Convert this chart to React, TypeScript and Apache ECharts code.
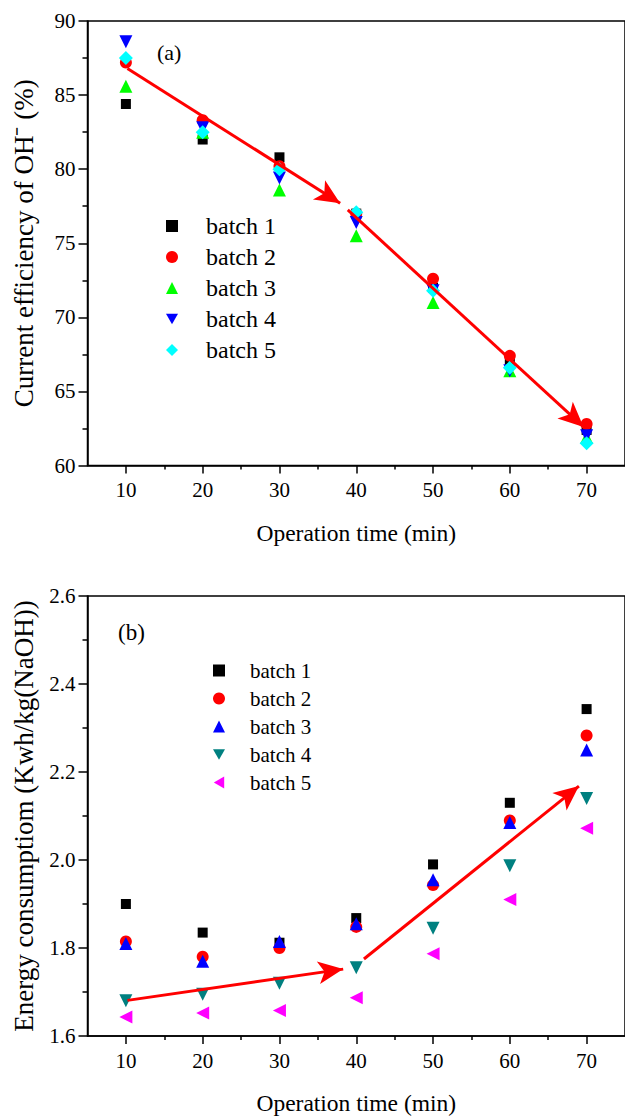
import React, { useEffect, useRef } from "react";
import * as echarts from "echarts";

const times = [10, 20, 30, 40, 50, 60, 70];
const minorTimes = [15, 25, 35, 45, 55, 65];

// (a) Current efficiency of OH- (%)
const effBatch1 = [84.4, 82.0, 80.8, 77.0, 72.0, 67.0, 62.4];
const effBatch2 = [87.2, 83.3, 80.2, 77.0, 72.6, 67.4, 62.8];
const effBatch3 = [85.6, 82.5, 78.6, 75.5, 71.0, 66.4, 61.9];
const effBatch4 = [88.6, 82.8, 79.4, 76.4, 71.8, 66.4, 62.0];
const effBatch5 = [87.5, 82.5, 80.0, 77.1, 71.8, 66.6, 61.5];

// (b) Energy consumption (Kwh/kg(NaOH))
const enBatch1 = [1.9, 1.835, 1.812, 1.868, 1.99, 2.13, 2.343];
const enBatch2 = [1.815, 1.78, 1.8, 1.848, 1.943, 2.09, 2.283];
const enBatch3 = [1.81, 1.77, 1.815, 1.855, 1.955, 2.085, 2.25];
const enBatch4 = [1.68, 1.695, 1.72, 1.755, 1.845, 1.987, 2.14];
const enBatch5 = [1.643, 1.652, 1.658, 1.687, 1.787, 1.91, 2.072];

// trend arrows [start, end] in data coordinates
const arrowsA = [
  [[10.2, 86.8], [37.9, 77.7]],
  [[38.9, 77.25], [69.6, 62.6]],
];
const arrowsB = [
  [[10.2, 1.681], [38.3, 1.752]],
  [[41.0, 1.775], [69.0, 2.168]],
];

const FONT = '"Liberation Serif", "Times New Roman", serif';
const DOWN_TRI = "path://M0,0 L200,0 L100,173 Z";
const LEFT_TRI = "path://M0,100 L173,0 L173,200 Z";

export default function App() {
  const ref = useRef<HTMLDivElement>(null);
  useEffect(() => {
    document.body.style.margin = "0";
    const chart = echarts.init(ref.current!, null, { renderer: "svg" });
    const black = "#000";
    const lineStyle = { color: black, width: 1.5 };

    const mkX = (gridIndex: number, name: string) => [
      {
        type: "value",
        gridIndex,
        min: 5,
        max: 75,
        interval: 5,
        position: "bottom",
        axisLine: { show: true, onZero: false, lineStyle },
        axisTick: { show: true, inside: false, length: 8, customValues: times, lineStyle },
        axisLabel: {
          customValues: times,
          color: black,
          fontSize: 21,
          fontFamily: FONT,
          margin: 14,
          formatter: (v: number) => (v % 10 === 0 ? String(v) : ""),
        },
        splitLine: { show: false },
        name,
        nameLocation: "middle",
        nameGap: 55,
        nameTextStyle: { color: black, fontSize: 23.5, fontFamily: FONT },
      },
      {
        type: "value",
        gridIndex,
        min: 5,
        max: 75,
        interval: 5,
        position: "bottom",
        axisLine: { show: false, onZero: false },
        axisTick: { show: true, inside: false, length: 4, customValues: minorTimes, lineStyle },
        axisLabel: { show: false },
        splitLine: { show: false },
      },
    ];

    const mkY = (gridIndex: number, min: number, max: number, interval: number, name: string, fmt?: (v: number) => string) => ({
      type: "value",
      gridIndex,
      min,
      max,
      interval,
      axisLine: { show: true, onZero: false, lineStyle },
      axisTick: { show: true, inside: false, length: 9, lineStyle },
      minorTick: { show: true, splitNumber: 2, length: 5, lineStyle },
      axisLabel: { color: black, fontSize: 21, fontFamily: FONT, margin: 12, formatter: fmt },
      splitLine: { show: false },
      minorSplitLine: { show: false },
      name,
      nameLocation: "middle",
      nameRotate: 90,
      nameGap: 50,
      nameTextStyle: { color: black, fontSize: 27, fontFamily: FONT },
    });

    const scatter = (name: string, vals: number[], symbol: string, color: string, size: number, xi: number, yi: number) => ({
      type: "scatter",
      name,
      xAxisIndex: xi,
      yAxisIndex: yi,
      symbol,
      symbolSize: size,
      itemStyle: { color, opacity: 1 },
      emphasis: { disabled: true },
      data: times.map((t, i) => [t, vals[i]]),
    });

    const arrowSeries = (arrows: number[][][], xi: number, yi: number) => ({
      type: "line",
      name: "arrows",
      xAxisIndex: xi,
      yAxisIndex: yi,
      data: [],
      silent: true,
      markLine: {
        silent: true,
        symbol: ["none", "arrow"],
        symbolSize: [17, 25],
        label: { show: false },
        emphasis: { disabled: true },
        lineStyle: { color: "#ff0000", width: 3, type: "solid" },
        data: arrows.map((a) => [{ coord: a[0] }, { coord: a[1] }]),
      },
    });

    const namesA = ["batch 1", "batch 2", "batch 3", "batch 4", "batch 5"];
    const namesB = namesA.map((n) => "b:" + n);
    const symA = ["rect", "circle", "triangle", DOWN_TRI, "diamond"];
    const symB = ["rect", "circle", "triangle", DOWN_TRI, LEFT_TRI];
    const colA = ["#000000", "#ff0000", "#00ff00", "#0000ff", "#00ffff"];
    const colB = ["#000000", "#ff0000", "#0000ff", "#008080", "#ff00ff"];
    const sizeA = [10, 12, 13, 13, 14];
    const sizeB = [10, 12, 13, 13, 13];

    chart.setOption({
      animation: false,
      textStyle: { fontFamily: FONT },
      grid: [
        { left: 87.5, top: 21, width: 542, height: 444.5, show: true, borderColor: black, borderWidth: 1.5, backgroundColor: "transparent" },
        { left: 87.5, top: 596, width: 542, height: 445, show: true, borderColor: black, borderWidth: 1.5, backgroundColor: "transparent" },
      ],
      xAxis: [...mkX(0, "Operation time (min)"), ...mkX(1, "Operation time (min)")],
      yAxis: [
        mkY(0, 60, 90, 5, "Current efficiency of OH\u207B (%)"),
        mkY(1, 1.6, 2.6, 0.2, "Energy consumptiom (Kwh/kg(NaOH))", (v: number) => v.toFixed(1)),
      ],
      legend: [
        {
          data: namesA.map((n, i) => ({ name: n, icon: symA[i], itemStyle: { color: colA[i] } })),
          orient: "vertical",
          left: 166,
          top: 214,
          padding: 0,
          itemWidth: 12,
          itemHeight: 12,
          itemGap: 7,
          selectedMode: false,
          textStyle: { fontSize: 24, color: black, fontFamily: FONT, padding: [0, 0, 0, 23] },
        },
        {
          data: namesB.map((n, i) => ({ name: n, icon: symB[i], itemStyle: { color: colB[i] } })),
          orient: "vertical",
          left: 213,
          top: 660,
          padding: 0,
          itemWidth: 12,
          itemHeight: 12,
          itemGap: 7,
          selectedMode: false,
          formatter: (n: string) => n.replace("b:", ""),
          textStyle: { fontSize: 21, color: black, fontFamily: FONT, padding: [0, 0, 0, 20] },
        },
      ],
      graphic: [
        { type: "text", left: 157, top: 41, style: { text: "(a)", font: `22px ${FONT}`, fill: black } },
        { type: "text", left: 118, top: 621, style: { text: "(b)", font: `23px ${FONT}`, fill: black } },
      ],
      series: [
        ...namesA.map((n, i) => scatter(n, [effBatch1, effBatch2, effBatch3, effBatch4, effBatch5][i], symA[i], colA[i], sizeA[i], 0, 0)),
        arrowSeries(arrowsA, 0, 0),
        ...namesB.map((n, i) => scatter(n, [enBatch1, enBatch2, enBatch3, enBatch4, enBatch5][i], symB[i], colB[i], sizeB[i], 2, 1)),
        arrowSeries(arrowsB, 2, 1),
      ],
    });
    return () => chart.dispose();
  }, []);
  return <div ref={ref} style={{ width: 625, height: 1116 }} />;
}
